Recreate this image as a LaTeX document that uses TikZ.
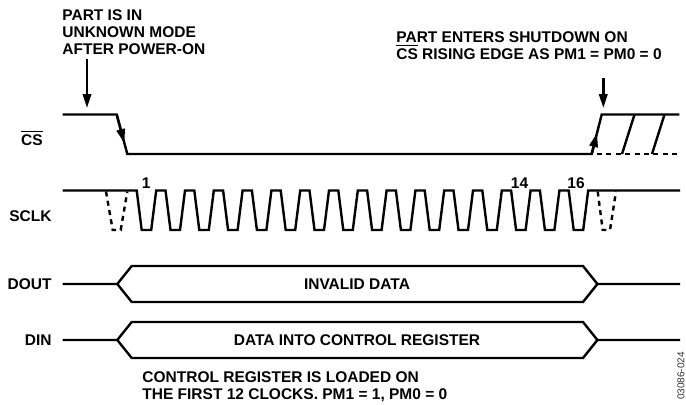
\documentclass[tikz,border=0pt]{standalone}
\usepackage{fontspec}
\setmainfont{Liberation Sans}
\usetikzlibrary{arrows.meta, positioning}

\begin{document}
\begin{tikzpicture}[x=0.5pt, y=-0.5pt, font=\fontsize{7.75}{8.5}\selectfont\bfseries,
	sig/.style={line width=1.2pt, line join=miter},
	dsig/.style={line width=1.2pt, dash pattern=on 2.5pt off 2.2pt},
	pin/.style={-{Triangle[length=7pt, width=4.2pt]}, line width=1.2pt},
	lbl/.style={anchor=base east, inner sep=0pt},
	note/.style={align=left, anchor=north west, inner sep=0pt}]
	\useasboundingbox (0,0) rectangle (686,404);

	% signal names
	\node[lbl] (cs) at (43,145) {$\overline{\mbox{CS}}$};
	\node[lbl] (sclk) at (52,221) {SCLK};
	\node[lbl] (dout) at (52,289.5) {DOUT};
	\node[lbl] (din) at (52,345.5) {DIN};

	% CS
	\draw[sig] (62.7,114.5) -- (116.7,114.5) -- (127.3,154) -- (591.7,154) -- (601.7,114.5) -- (679.3,114.5);
	\draw[pin] (116.7,114.5) -- (124.3,143);
	\draw[pin] (591.7,154) -- (597,133);
	\draw[dsig] (597,154) -- (679.3,154);
	\draw[sig] (622,154) -- (634.5,114.5);
	\draw[sig] (652,154) -- (664.5,114.5);

	% SCLK
	\draw[sig] (62.7,190.5) \foreach \i in {0,...,15}{
		-- ({136.7+28.8*\i},190.5) -- ({141.7+28.8*\i},230) -- ({151.2+28.8*\i},230) -- ({156.2+28.8*\i},190.5)
	} -- (680,190.5);
	\draw[dsig] (106,191.5) -- (112.7,230) -- (120.7,230) -- (127.3,191.5);
	\draw[dsig] (597.7,191.5) -- (602.7,230) -- (610,230) -- (616,191.5);
	\foreach \n/\x in {1/141.5, 14/510.5, 16/567}
		\node[anchor=base west, inner sep=0pt] (c\n) at (\x,188) {\n};

	% DOUT and DIN buses
	\foreach \y/\t [count=\i] in {284/{INVALID DATA}, 340/{DATA INTO CONTROL REGISTER}}{
		\draw[sig] (62.7,\y) -- (117.3,\y) -- (131.7,\y-18) -- (583,\y-18) -- (597.4,\y) -- (680,\y);
		\draw[sig] (117.3,\y) -- (131.7,\y+18) -- (583,\y+18) -- (597.4,\y);
		\node (bus\i) at (357,\y) {\t};
	}

	% notes
	\node[note] (poweron) at (62,9) {PART IS IN\\UNKNOWN MODE\\AFTER POWER-ON};
	\node[note] (shutdown) at (396,31) {PART ENTERS SHUTDOWN ON\\$\overline{\mbox{CS}}$ RISING EDGE AS PM1 = PM0 = 0};
	\node[note] (loaded) at (142,371.5) {CONTROL REGISTER IS LOADED ON\\THE FIRST 12 CLOCKS. PM1 = 1, PM0 = 0};
	\coordinate (poweron tip) at (87,108);
	\coordinate (shutdown tip) at (603.3,108);
	\draw[pin] (87,59) -- (poweron tip);
	\draw[pin] (603.3,78) -- (shutdown tip);

	\node[font=\fontsize{5}{6}\selectfont, text=black!80, rotate=90, inner sep=0pt] (figno) at (681,376) {03086-024};
\end{tikzpicture}
\end{document}
